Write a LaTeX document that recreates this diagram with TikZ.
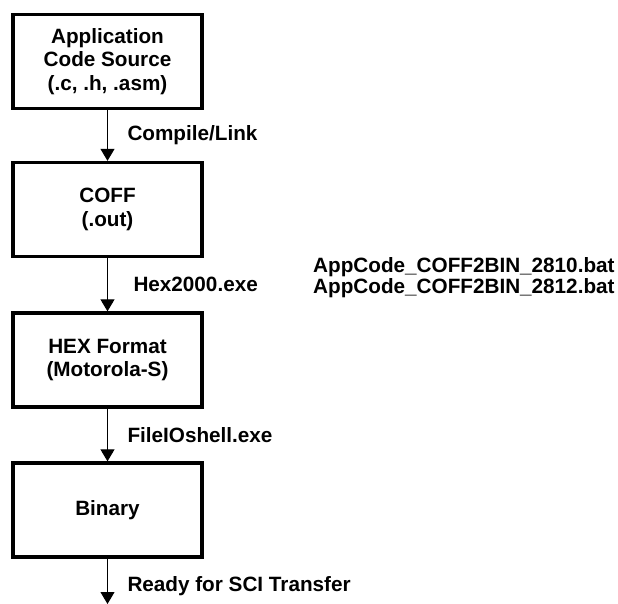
\documentclass[tikz,border=0pt]{standalone}
\usepackage{fontspec}
\setmainfont{Liberation Sans}
\usetikzlibrary{arrows.meta}
\begin{document}
\begin{tikzpicture}[x=1pt,y=-1pt]
  \tikzstyle{stage}=[draw,line width=3.3pt,inner sep=0pt,minimum width=189pt,minimum height=94pt,align=center,font=\fontsize{20.7}{23.5}\selectfont\bfseries]
  \tikzstyle{flow}=[-{Triangle[length=12pt,width=14pt]},line width=1pt]
  \tikzstyle{tool}=[right,inner sep=0pt,xshift=19.5pt,font=\fontsize{20.7}{21}\selectfont\bfseries]

  \useasboundingbox (0,0) rectangle (618,604);

  \node (src) at (107.5,61.5) [stage] {Application\\Code Source\\(.c, .h, .asm)};
  \node (coff) at (107.5,209.5) [stage] {COFF\\(.out)};
  \node (hex) at (107.5,360) [stage] {HEX Format\\(Motorola-S)};
  \node (bin) at (107.5,510) [stage] {Binary};
  \coordinate (sci) at (107.5,604);

  \node (bat) at (313,277.5) [anchor=west,inner sep=0pt,align=left,font=\fontsize{20.7}{21}\selectfont\bfseries] {AppCode\_COFF2BIN\_2810.bat\\AppCode\_COFF2BIN\_2812.bat};

  \draw[flow] (src) to node[tool] {Compile/Link} (coff);
  \draw[flow] (coff) to node[tool,xshift=6pt] {Hex2000.exe} (hex);
  \draw[flow] (hex) to node[tool] {FileIOshell.exe} (bin);
  \draw[flow] (bin) to node[tool,yshift=-4.5pt] {Ready for SCI Transfer} (sci);
\end{tikzpicture}
\end{document}
